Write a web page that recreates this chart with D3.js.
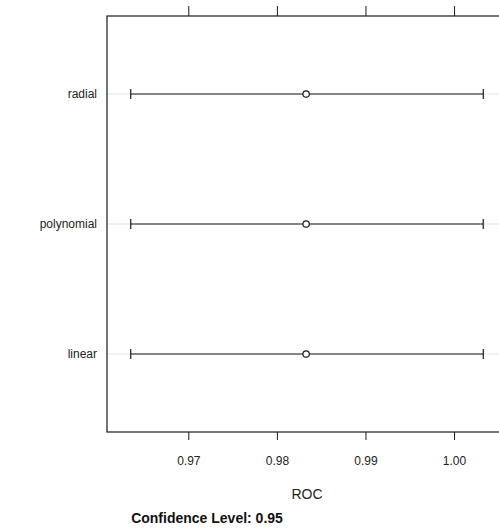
<!DOCTYPE html>
<html>
<head>
<meta charset="utf-8">
<script src="https://cdn.jsdelivr.net/npm/d3@7"></script>
<style>
  html, body { margin: 0; padding: 0; background: #fff; }
  svg { display: block; font-family: "Liberation Sans", Arial, sans-serif; }
</style>
</head>
<body>
<svg id="chart" width="499" height="532"></svg>
<script>
// Model resampling summary: ROC estimate with 95% confidence bounds
const models = ["linear", "polynomial", "radial"];
const rocEstimate = [0.9833, 0.9833, 0.9833];
const rocLower = [0.9635, 0.9635, 0.9635];
const rocUpper = [1.0033, 1.0033, 1.0033];
const xTicks = [0.97, 0.98, 0.99, 1.00];
const xTickLabels = ["0.97", "0.98", "0.99", "1.00"];

const rows = models.map((m, i) => ({
  model: m, est: rocEstimate[i], lo: rocLower[i], hi: rocUpper[i]
}));

const svg = d3.select("#chart");
const panel = { left: 107, right: 507, top: 16, bottom: 432 };

const x = d3.scaleLinear()
  .domain([0.96082, 1.00598])
  .range([panel.left, panel.right]);

const y = d3.scalePoint()
  .domain(models.slice().reverse())
  .range([panel.top, panel.bottom])
  .padding(0.6);

const ink = "#1a1a1a";

// light reference lines across the panel for each model
svg.append("g").selectAll("line")
  .data(rows).join("line")
  .attr("x1", panel.left).attr("x2", panel.right)
  .attr("y1", d => y(d.model)).attr("y2", d => y(d.model))
  .attr("stroke", "#e3e3e3").attr("stroke-width", 1);

// bottom axis
const bottomAxis = d3.axisBottom(x)
  .tickValues(xTicks)
  .tickFormat((d, i) => xTickLabels[i])
  .tickSize(8).tickSizeOuter(0).tickPadding(16);
const gb = svg.append("g").attr("transform", `translate(0,${panel.bottom})`).call(bottomAxis);
gb.select(".domain").remove();
gb.selectAll(".tick line").attr("stroke", ink);
gb.selectAll(".tick text").attr("fill", "#222").style("font-size", "12px");

// top axis ticks (no labels)
const topAxis = d3.axisTop(x).tickValues(xTicks).tickFormat("")
  .tickSize(10).tickSizeOuter(0);
const gt = svg.append("g").attr("transform", `translate(0,${panel.top})`).call(topAxis);
gt.select(".domain").remove();
gt.selectAll(".tick line").attr("stroke", ink);

// left axis labels
const leftAxis = d3.axisLeft(y).tickSize(0).tickPadding(10);
const gl = svg.append("g").attr("transform", `translate(${panel.left},0)`).call(leftAxis);
gl.select(".domain").remove();
gl.selectAll(".tick text").attr("fill", "#222").style("font-size", "12px");

// panel border
svg.append("rect")
  .attr("x", panel.left).attr("y", panel.top)
  .attr("width", panel.right - panel.left).attr("height", panel.bottom - panel.top)
  .attr("fill", "none").attr("stroke", ink).attr("stroke-width", 1.2);

// confidence interval bars with end caps
const ci = svg.append("g");
ci.selectAll("line.ci").data(rows).join("line").attr("class", "ci")
  .attr("x1", d => x(d.lo)).attr("x2", d => x(d.hi))
  .attr("y1", d => y(d.model)).attr("y2", d => y(d.model))
  .attr("stroke", ink).attr("stroke-width", 1.2);
ci.selectAll("line.cap-lo").data(rows).join("line").attr("class", "cap-lo")
  .attr("x1", d => x(d.lo)).attr("x2", d => x(d.lo))
  .attr("y1", d => y(d.model) - 5).attr("y2", d => y(d.model) + 5)
  .attr("stroke", ink).attr("stroke-width", 1.2);
ci.selectAll("line.cap-hi").data(rows).join("line").attr("class", "cap-hi")
  .attr("x1", d => x(d.hi)).attr("x2", d => x(d.hi))
  .attr("y1", d => y(d.model) - 5).attr("y2", d => y(d.model) + 5)
  .attr("stroke", ink).attr("stroke-width", 1.2);

// point estimates
ci.selectAll("circle").data(rows).join("circle")
  .attr("cx", d => x(d.est)).attr("cy", d => y(d.model))
  .attr("r", 3.2).attr("fill", "#fff")
  .attr("stroke", ink).attr("stroke-width", 1.2);

// axis title and subtitle
svg.append("text")
  .attr("x", 307).attr("y", 499)
  .attr("text-anchor", "middle").attr("fill", "#222")
  .style("font-size", "14px").text("ROC");
svg.append("text")
  .attr("x", 207).attr("y", 523)
  .attr("text-anchor", "middle").attr("fill", "#111")
  .style("font-size", "14px").style("font-weight", "bold")
  .text("Confidence Level: 0.95");
</script>
</body>
</html>
